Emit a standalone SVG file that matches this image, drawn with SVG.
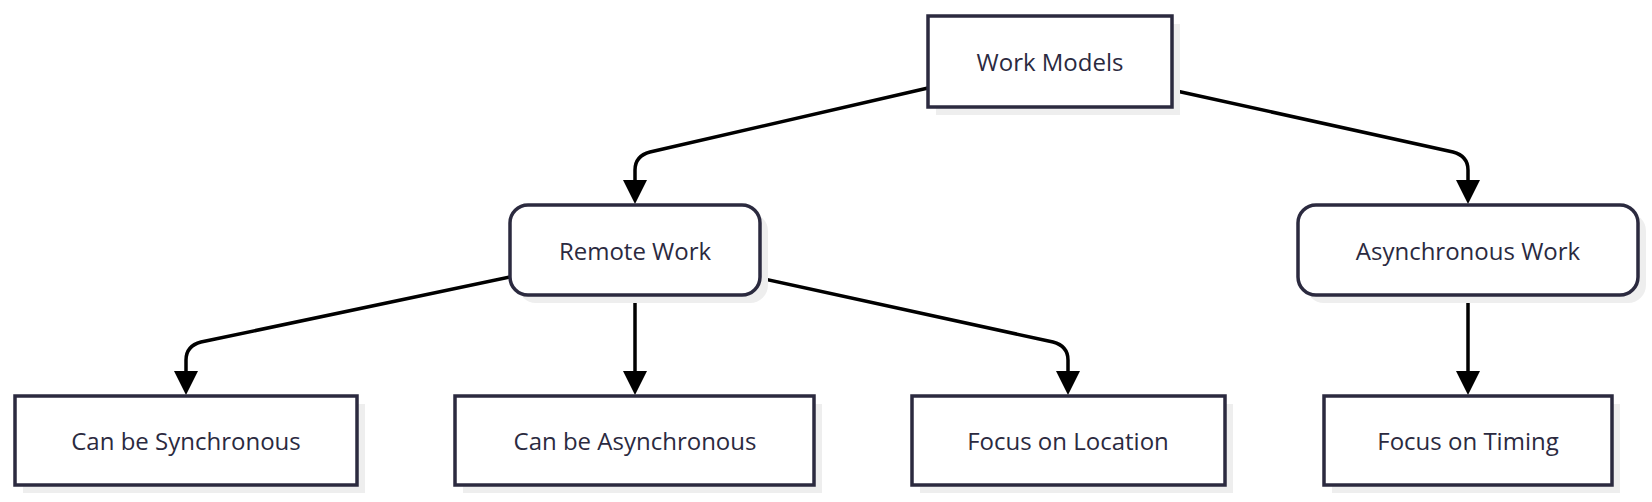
<svg xmlns="http://www.w3.org/2000/svg" width="1652" height="502" viewBox="0 0 1652 502">
<defs>
<marker id="ah" markerWidth="10" markerHeight="10" refX="5" refY="9" orient="auto-start-reverse" markerUnits="userSpaceOnUse" viewBox="0 0 10 10"><path d="M0,0 L10,0 L5,10 z" fill="#000" transform="rotate(0)"/></marker>
</defs>
<style>
.box{fill:#fff;stroke:#2b2a3f;stroke-width:3.5}
.sh{fill:#eeeeee}
text{font-family:"Open Sans","DejaVu Sans",sans-serif;font-size:24px;fill:#2b2a3f;text-anchor:middle;dominant-baseline:central}
.e{fill:none;stroke:#000;stroke-width:3.5}
.tip{fill:#000}
</style>
<rect width="1652" height="502" fill="#fff"/>
<g id="connectors">
<path class="e" d="M928,88 L650,152 Q635,156 635,170 L635,180"/>
<path class="tip" d="M623,180 L647,180 L635,204 z"/>
<path class="e" d="M1172,90 L1453,152 Q1468,156 1468,170 L1468,180"/>
<path class="tip" d="M1456,180 L1480,180 L1468,204 z"/>
<path class="e" d="M510,277 L201,342 Q186,346 186,360 L186,371"/>
<path class="tip" d="M174,371 L198,371 L186,395 z"/>
<path class="e" d="M635,295 L635,371"/>
<path class="tip" d="M623,371 L647,371 L635,395 z"/>
<path class="e" d="M760,278 L1053,342 Q1068,346 1068,360 L1068,371"/>
<path class="tip" d="M1056,371 L1080,371 L1068,395 z"/>
<path class="e" d="M1468,295 L1468,371"/>
<path class="tip" d="M1456,371 L1480,371 L1468,395 z"/>
</g>
<g id="n-work-models"><rect class="sh" x="936" y="24" width="244" height="91"/><rect class="box" x="928" y="16" width="244" height="91"/><text x="1050" y="61">Work Models</text></g>
<g id="n-remote"><rect class="sh" x="518" y="213" width="250" height="90" rx="18"/><rect class="box" x="510" y="205" width="250" height="90" rx="18"/><text x="635" y="250">Remote Work</text></g>
<g id="n-async"><rect class="sh" x="1306" y="213" width="340" height="90" rx="18"/><rect class="box" x="1298" y="205" width="340" height="90" rx="18"/><text x="1468" y="250">Asynchronous Work</text></g>
<g id="n-sync"><rect class="sh" x="23" y="404" width="342" height="89"/><rect class="box" x="15" y="396" width="342" height="89"/><text x="186" y="440">Can be Synchronous</text></g>
<g id="n-canasync"><rect class="sh" x="463" y="404" width="359" height="89"/><rect class="box" x="455" y="396" width="359" height="89"/><text x="635" y="440">Can be Asynchronous</text></g>
<g id="n-location"><rect class="sh" x="920" y="404" width="313" height="89"/><rect class="box" x="912" y="396" width="313" height="89"/><text x="1068" y="440">Focus on Location</text></g>
<g id="n-timing"><rect class="sh" x="1332" y="404" width="288" height="89"/><rect class="box" x="1324" y="396" width="288" height="89"/><text x="1468" y="440">Focus on Timing</text></g>
</svg>
